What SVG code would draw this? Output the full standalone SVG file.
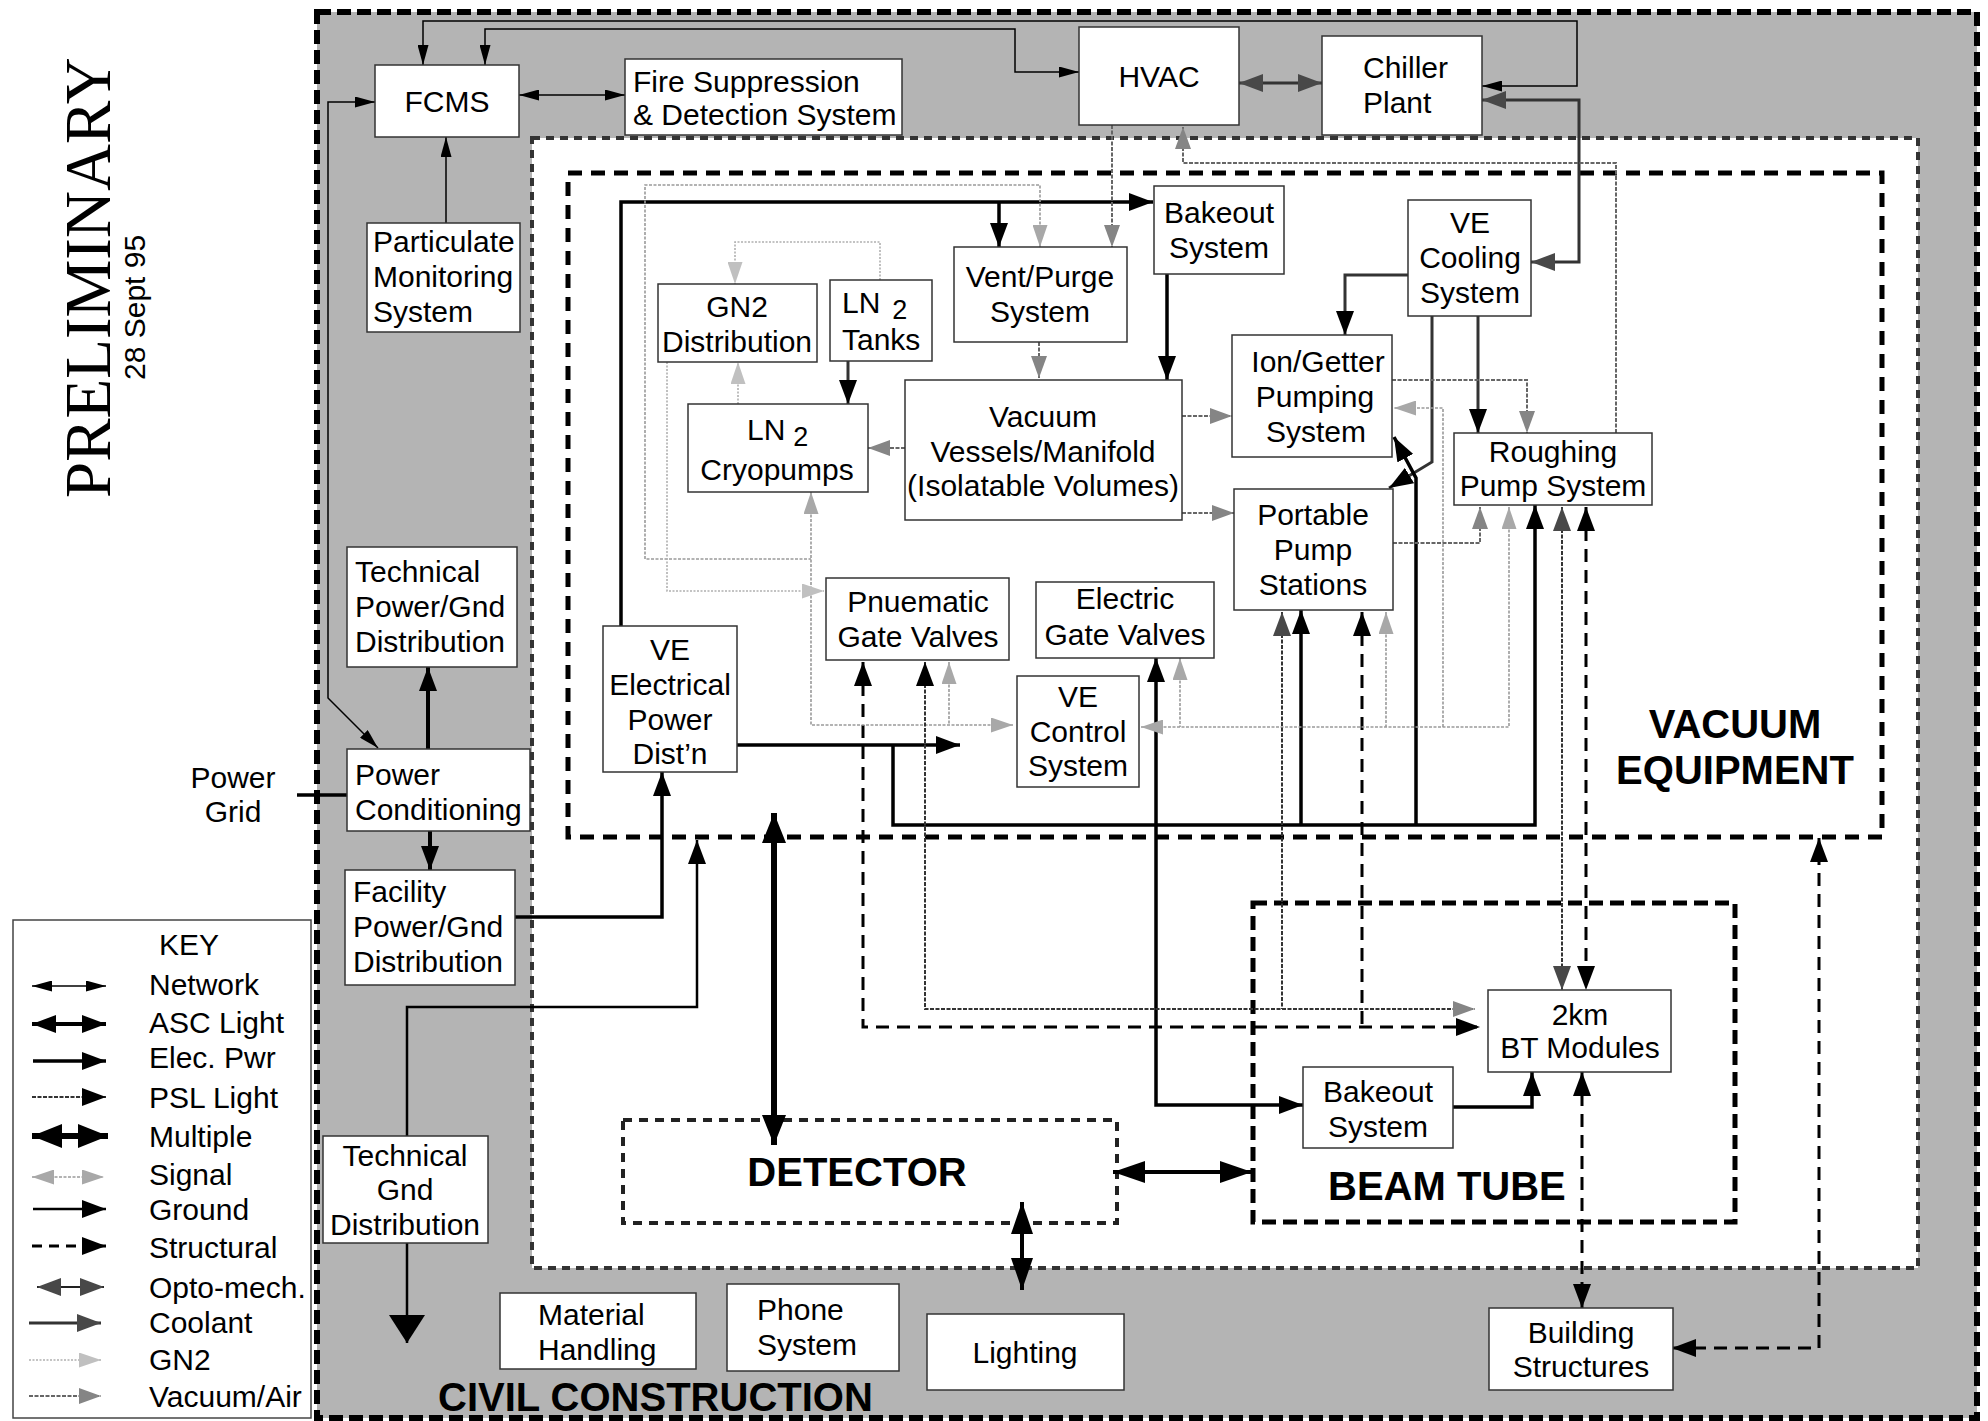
<svg xmlns="http://www.w3.org/2000/svg" width="1988" height="1421" viewBox="0 0 1988 1421">
<style>
text{font-family:"Liberation Sans",Arial,Helvetica,sans-serif;font-size:30px;fill:#000}
.c{text-anchor:middle}
.sub{font-size:27px}
.big{font-weight:bold;font-size:40px}
.box{fill:#fff;stroke:#333;stroke-width:1.5}
.net{fill:none;stroke:#000;stroke-width:1.5}
.asc{fill:none;stroke:#000;stroke-width:4}
.elec{fill:none;stroke:#000;stroke-width:3.5}
.mul{fill:none;stroke:#000;stroke-width:6}
.gnd{fill:none;stroke:#000;stroke-width:2.5}
.psl{fill:none;stroke:#333;stroke-width:2;stroke-dasharray:4 1.5}
.sig{fill:none;stroke:#9a9a9a;stroke-width:1.6;stroke-dasharray:3 1.5}
.vac{fill:none;stroke:#666;stroke-width:2;stroke-dasharray:4 1.5}
.cool{fill:none;stroke:#333;stroke-width:3}
.opto{fill:none;stroke:#222;stroke-width:2}
.gn2{fill:none;stroke:#b0b0b0;stroke-width:1.6;stroke-dasharray:2 1.5}
.str{fill:none;stroke:#000;stroke-width:3;stroke-dasharray:13 8}
</style>
<defs>
<marker id="aNet" viewBox="0 0 20 11" refX="20" refY="5.5" markerWidth="20" markerHeight="11" markerUnits="userSpaceOnUse" orient="auto-start-reverse"><path d="M0,0 L20,5.5 L0,11 z" fill="#000"/></marker>
<marker id="aBlk" viewBox="0 0 24 18" refX="24" refY="9" markerWidth="24" markerHeight="18" markerUnits="userSpaceOnUse" orient="auto-start-reverse"><path d="M0,0 L24,9 L0,18 z" fill="#000"/></marker>
<marker id="aMul" viewBox="0 0 30 24" refX="30" refY="12" markerWidth="30" markerHeight="24" markerUnits="userSpaceOnUse" orient="auto-start-reverse"><path d="M0,0 L30,12 L0,24 z" fill="#000"/></marker>
<marker id="aAsc" viewBox="0 0 32 22" refX="32" refY="11" markerWidth="32" markerHeight="22" markerUnits="userSpaceOnUse" orient="auto-start-reverse"><path d="M0,0 L32,11 L0,22 z" fill="#000"/></marker>
<marker id="aHuge" viewBox="0 0 28 36" refX="28" refY="18" markerWidth="28" markerHeight="36" markerUnits="userSpaceOnUse" orient="auto-start-reverse"><path d="M0,0 L28,18 L0,36 z" fill="#000"/></marker>
<marker id="aSig" viewBox="0 0 22 15" refX="22" refY="7.5" markerWidth="22" markerHeight="15" markerUnits="userSpaceOnUse" orient="auto-start-reverse"><path d="M0,0 L22,7.5 L0,15 z" fill="#a8a8a8"/></marker>
<marker id="aVac" viewBox="0 0 22 16" refX="22" refY="8" markerWidth="22" markerHeight="16" markerUnits="userSpaceOnUse" orient="auto-start-reverse"><path d="M0,0 L22,8 L0,16 z" fill="#858585"/></marker>
<marker id="aCool" viewBox="0 0 24 18" refX="24" refY="9" markerWidth="24" markerHeight="18" markerUnits="userSpaceOnUse" orient="auto-start-reverse"><path d="M0,0 L24,9 L0,18 z" fill="#484848"/></marker>
<marker id="aGN2" viewBox="0 0 22 15" refX="22" refY="7.5" markerWidth="22" markerHeight="15" markerUnits="userSpaceOnUse" orient="auto-start-reverse"><path d="M0,0 L22,7.5 L0,15 z" fill="#c0c0c0"/></marker>
</defs>

<g id="regions">
<rect x="317" y="12" width="1660" height="1406" fill="#b4b4b4" stroke="#000" stroke-width="6" stroke-dasharray="14 6"/>
<rect x="532" y="138" width="1386" height="1130" fill="#fff" stroke="#333" stroke-width="4" stroke-dasharray="8 6"/>
<rect id="vacuum-equipment" x="568" y="173" width="1314" height="664" fill="none" stroke="#000" stroke-width="5" stroke-dasharray="14 9"/>
<rect id="beam-tube" x="1253" y="903" width="482" height="319" fill="none" stroke="#000" stroke-width="5" stroke-dasharray="14 7"/>
<rect id="detector" x="623" y="1120" width="494" height="103" fill="none" stroke="#222" stroke-width="4" stroke-dasharray="9 7"/>
</g>

<g id="connectors">
<path class="net" d="M1482,86 L1577,86 L1577,21 L423,21 L423,65" marker-start="url(#aNet)" marker-end="url(#aNet)"/>
<path class="net" d="M1079,72 L1015,72 L1015,29 L485,29 L485,65" marker-start="url(#aNet)" marker-end="url(#aNet)"/>
<path class="net" d="M519,95 L625,95" marker-start="url(#aNet)" marker-end="url(#aNet)"/>
<path class="net" d="M375,102 L328,102 L328,698 L378,748" marker-start="url(#aNet)" marker-end="url(#aNet)"/>
<path class="net" d="M446,223 L446,137" marker-end="url(#aNet)"/>
<path class="cool" d="M1239,83 L1322,83" marker-start="url(#aCool)" marker-end="url(#aCool)"/>
<path class="cool" d="M1482,100 L1579,100 L1579,262 L1531,262" marker-start="url(#aCool)" marker-end="url(#aCool)"/>
<path class="cool" d="M1408,275 L1345,275 L1345,335" marker-end="url(#aBlk)"/>
<path class="cool" d="M1478,316 L1478,433" marker-end="url(#aBlk)"/>
<path class="cool" d="M1432,316 L1432,462 L1389,488" marker-end="url(#aBlk)"/>
<path class="cool" d="M848,361 L848,404" marker-end="url(#aBlk)"/>
<path class="elec" d="M621,626 L621,202 L1153,202" marker-end="url(#aBlk)"/>
<path class="elec" d="M999,202 L999,247" marker-end="url(#aBlk)"/>
<path class="elec" d="M1167,274 L1167,380" marker-end="url(#aBlk)"/>
<path class="elec" d="M737,745 L960,745" marker-end="url(#aBlk)"/>
<path class="elec" d="M893,745 L893,825 L1535,825 L1535,505" marker-end="url(#aBlk)"/>
<path class="elec" d="M1301,825 L1301,610" marker-end="url(#aBlk)"/>
<path class="elec" d="M1416,825 L1416,478 L1394,437" marker-end="url(#aBlk)"/>
<path class="elec" d="M1303,1105 L1156,1105 L1156,658" marker-start="url(#aBlk)" marker-end="url(#aBlk)"/>
<path class="elec" d="M515,917 L662,917 L662,772" marker-end="url(#aBlk)"/>
<path class="elec" d="M1453,1107 L1532,1107 L1532,1072" marker-end="url(#aBlk)"/>
<path class="elec" d="M297,795 L347,795"/>
<path class="asc" d="M428,749 L428,667" marker-end="url(#aBlk)"/>
<path class="asc" d="M430,831 L430,870" marker-end="url(#aBlk)"/>
<path class="gnd" d="M407,1136 L407,1007 L697,1007 L697,840" marker-end="url(#aBlk)"/>
<path class="gnd" d="M407,1243 L407,1343" marker-end="url(#aHuge)"/>
<path class="mul" d="M774,813 L774,1145" marker-start="url(#aMul)" marker-end="url(#aMul)"/>
<path class="asc" d="M1113,1172 L1252,1172" marker-start="url(#aAsc)" marker-end="url(#aAsc)"/>
<path class="asc" d="M1022,1202 L1022,1290" marker-start="url(#aAsc)" marker-end="url(#aAsc)"/>
<path class="str" d="M863,662 L863,1027 L1480,1027" marker-start="url(#aBlk)" marker-end="url(#aBlk)"/>
<path class="str" d="M1362,612 L1362,1027" marker-start="url(#aBlk)"/>
<path class="str" d="M1586,507 L1586,990" marker-start="url(#aBlk)" marker-end="url(#aBlk)"/>
<path class="str" d="M1582,1072 L1582,1308" marker-start="url(#aBlk)" marker-end="url(#aBlk)"/>
<path class="str" d="M1672,1348 L1819,1348 L1819,838" marker-start="url(#aBlk)" marker-end="url(#aBlk)"/>
<path class="sig" d="M1040,247 L1040,185 L645,185 L645,559 L811,559" marker-start="url(#aSig)"/>
<path class="sig" d="M811,492 L811,725 L1013,725" marker-start="url(#aSig)" marker-end="url(#aSig)"/>
<path class="sig" d="M949,662 L949,725" marker-start="url(#aSig)"/>
<path class="sig" d="M1141,727 L1509,727 L1509,507" marker-start="url(#aSig)" marker-end="url(#aSig)"/>
<path class="sig" d="M1180,658 L1180,727" marker-start="url(#aSig)"/>
<path class="sig" d="M1386,612 L1386,727" marker-start="url(#aSig)"/>
<path class="sig" d="M1443,727 L1443,408 L1394,408" marker-end="url(#aSig)"/>
<path class="vac" d="M1112,125 L1112,247" marker-end="url(#aVac)"/>
<path class="vac" d="M1039,342 L1039,378" marker-end="url(#aVac)"/>
<path class="vac" d="M905,448 L868,448" marker-end="url(#aVac)"/>
<path class="vac" d="M1182,416 L1232,416" marker-end="url(#aVac)"/>
<path class="vac" d="M1182,513 L1234,513" marker-end="url(#aVac)"/>
<path class="vac" d="M1392,380 L1527,380 L1527,433" marker-end="url(#aVac)"/>
<path class="vac" d="M1393,543 L1480,543 L1480,507" marker-end="url(#aVac)"/>
<path class="vac" d="M1616,433 L1616,163 L1183,163 L1183,127" marker-end="url(#aVac)"/>
<path class="psl" d="M925,662 L925,1009 L1475,1009" marker-start="url(#aBlk)" marker-end="url(#aVac)"/>
<path class="psl" d="M1282,612 L1282,1009" marker-start="url(#aCool)"/>
<path class="psl" d="M1562,507 L1562,990" marker-start="url(#aCool)" marker-end="url(#aCool)"/>
<path class="gn2" d="M880,280 L880,242 L735,242 L735,284" marker-end="url(#aGN2)"/>
<path class="gn2" d="M738,404 L738,362" marker-end="url(#aGN2)"/>
<path class="gn2" d="M667,362 L667,591 L824,591" marker-end="url(#aGN2)"/>
</g>

<g id="nodes">
<g id="fcms"><rect class="box" x="375" y="65" width="144" height="72"/><text class="c" x="447" y="112">FCMS</text></g>
<g id="fire-suppression"><rect class="box" x="625" y="59" width="277" height="76"/><text x="633" y="92">Fire Suppression</text><text x="633" y="125">&amp; Detection System</text></g>
<g id="hvac"><rect class="box" x="1079" y="27" width="160" height="98"/><text class="c" x="1159" y="87">HVAC</text></g>
<g id="chiller-plant"><rect class="box" x="1322" y="36" width="160" height="99"/><text x="1363" y="78">Chiller</text><text x="1363" y="113">Plant</text></g>
<g id="particulate"><rect class="box" x="367" y="223" width="153" height="109"/><text x="373" y="252">Particulate</text><text x="373" y="287">Monitoring</text><text x="373" y="322">System</text></g>
<g id="technical-power"><rect class="box" x="347" y="547" width="170" height="120"/><text x="355" y="582">Technical</text><text x="355" y="617">Power/Gnd</text><text x="355" y="652">Distribution</text></g>
<g id="power-conditioning"><rect class="box" x="347" y="749" width="183" height="82"/><text x="355" y="785">Power</text><text x="355" y="820">Conditioning</text></g>
<g id="facility-power"><rect class="box" x="345" y="870" width="170" height="115"/><text x="353" y="902">Facility</text><text x="353" y="937">Power/Gnd</text><text x="353" y="972">Distribution</text></g>
<g id="technical-gnd"><rect class="box" x="323" y="1136" width="165" height="107"/><text class="c" x="405" y="1166">Technical</text><text class="c" x="405" y="1200">Gnd</text><text class="c" x="405" y="1235">Distribution</text></g>
<g id="ve-electrical"><rect class="box" x="603" y="626" width="134" height="146"/><text class="c" x="670" y="660">VE</text><text class="c" x="670" y="695">Electrical</text><text class="c" x="670" y="730">Power</text><text class="c" x="670" y="764">Dist’n</text></g>
<g id="bakeout-top"><rect class="box" x="1154" y="186" width="130" height="88"/><text class="c" x="1219" y="223">Bakeout</text><text class="c" x="1219" y="258">System</text></g>
<g id="vent-purge"><rect class="box" x="954" y="247" width="173" height="95"/><text class="c" x="1040" y="287">Vent/Purge</text><text class="c" x="1040" y="322">System</text></g>
<g id="gn2-distribution"><rect class="box" x="658" y="284" width="159" height="78"/><text class="c" x="737" y="317">GN2</text><text class="c" x="737" y="352">Distribution</text></g>
<g id="ln2-tanks"><rect class="box" x="830" y="280" width="102" height="81"/><text x="842" y="313">LN<tspan class="sub" dx="12" dy="6">2</tspan></text><text x="842" y="350">Tanks</text></g>
<g id="ln2-cryopumps"><rect class="box" x="688" y="404" width="180" height="88"/><text x="747" y="440">LN<tspan class="sub" dx="8" dy="6">2</tspan></text><text class="c" x="777" y="480">Cryopumps</text></g>
<g id="vacuum-vessels"><rect class="box" x="905" y="380" width="277" height="140"/><text class="c" x="1043" y="427">Vacuum</text><text class="c" x="1043" y="462">Vessels/Manifold</text><text class="c" x="1043" y="496">(Isolatable Volumes)</text></g>
<g id="ion-getter"><rect class="box" x="1232" y="335" width="160" height="122"/><text class="c" x="1318" y="372">Ion/Getter</text><text class="c" x="1315" y="407">Pumping</text><text class="c" x="1316" y="442">System</text></g>
<g id="ve-cooling"><rect class="box" x="1408" y="200" width="123" height="116"/><text class="c" x="1470" y="233">VE</text><text class="c" x="1470" y="268">Cooling</text><text class="c" x="1470" y="303">System</text></g>
<g id="roughing-pump"><rect class="box" x="1454" y="433" width="198" height="72"/><text class="c" x="1553" y="462">Roughing</text><text class="c" x="1553" y="496">Pump System</text></g>
<g id="portable-pump"><rect class="box" x="1234" y="489" width="159" height="121"/><text class="c" x="1313" y="525">Portable</text><text class="c" x="1313" y="560">Pump</text><text class="c" x="1313" y="595">Stations</text></g>
<g id="pneumatic-gate-valves"><rect class="box" x="826" y="578" width="183" height="82"/><text class="c" x="918" y="612">Pnuematic</text><text class="c" x="918" y="647">Gate Valves</text></g>
<g id="electric-gate-valves"><rect class="box" x="1036" y="582" width="178" height="76"/><text class="c" x="1125" y="609">Electric</text><text class="c" x="1125" y="645">Gate Valves</text></g>
<g id="ve-control"><rect class="box" x="1017" y="676" width="122" height="111"/><text class="c" x="1078" y="707">VE</text><text class="c" x="1078" y="742">Control</text><text class="c" x="1078" y="776">System</text></g>
<g id="bt-modules"><rect class="box" x="1488" y="990" width="183" height="82"/><text class="c" x="1580" y="1025">2km</text><text class="c" x="1580" y="1058">BT Modules</text></g>
<g id="bakeout-bottom"><rect class="box" x="1303" y="1067" width="150" height="81"/><text class="c" x="1378" y="1102">Bakeout</text><text class="c" x="1378" y="1137">System</text></g>
<g id="building-structures"><rect class="box" x="1489" y="1308" width="184" height="82"/><text class="c" x="1581" y="1343">Building</text><text class="c" x="1581" y="1377">Structures</text></g>
<g id="material-handling"><rect class="box" x="500" y="1293" width="196" height="76"/><text x="538" y="1325">Material</text><text x="538" y="1360">Handling</text></g>
<g id="phone-system"><rect class="box" x="727" y="1284" width="172" height="87"/><text x="757" y="1320">Phone</text><text x="757" y="1355">System</text></g>
<g id="lighting"><rect class="box" x="927" y="1314" width="197" height="76"/><text class="c" x="1025" y="1363">Lighting</text></g>
<g id="power-grid"><text class="c" x="233" y="788">Power</text><text class="c" x="233" y="822">Grid</text></g>
</g>

<g id="labels">
<text class="big c" x="1735" y="738">VACUUM</text>
<text class="big c" x="1735" y="784">EQUIPMENT</text>
<text class="big c" x="857" y="1186">DETECTOR</text>
<text class="big" x="1328" y="1200">BEAM TUBE</text>
<text class="big" x="438" y="1411">CIVIL CONSTRUCTION</text>
<text x="110" y="498" transform="rotate(-90 110 498)" style="font-family:'Liberation Serif','Times New Roman',serif;font-size:65px">PRELIMINARY</text>
<text x="145" y="380" transform="rotate(-90 145 380)">28 Sept 95</text>
</g>

<g id="key">
<rect x="13" y="920" width="298" height="498" fill="#fff" stroke="#444" stroke-width="1.5"/>
<text class="c" x="189" y="955">KEY</text>
<path class="net" d="M32,986 L106,986" marker-start="url(#aNet)" marker-end="url(#aNet)"/>
<path class="asc" d="M32,1024 L106,1024" marker-start="url(#aBlk)" marker-end="url(#aBlk)"/>
<path class="elec" d="M33,1061 L106,1061" marker-end="url(#aBlk)"/>
<path class="psl" d="M32,1097 L106,1097" marker-end="url(#aBlk)"/>
<path class="mul" d="M32,1136 L108,1136" marker-start="url(#aMul)" marker-end="url(#aMul)"/>
<path class="sig" d="M32,1177 L104,1177" marker-start="url(#aSig)" marker-end="url(#aSig)"/>
<path class="gnd" d="M33,1209 L106,1209" marker-end="url(#aBlk)"/>
<path class="str" d="M32,1246 L106,1246" style="stroke-dasharray:10 7" marker-end="url(#aBlk)"/>
<path class="opto" d="M37,1287 L104,1287" marker-start="url(#aCool)" marker-end="url(#aCool)"/>
<path class="cool" d="M29,1323 L101,1323" marker-end="url(#aCool)"/>
<path class="gn2" d="M29,1360 L101,1360" marker-end="url(#aGN2)"/>
<path class="vac" d="M29,1396 L101,1396" marker-end="url(#aVac)"/>
<text x="149" y="995">Network</text>
<text x="149" y="1033">ASC Light</text>
<text x="149" y="1068">Elec. Pwr</text>
<text x="149" y="1108">PSL Light</text>
<text x="149" y="1147">Multiple</text>
<text x="149" y="1185">Signal</text>
<text x="149" y="1220">Ground</text>
<text x="149" y="1258">Structural</text>
<text x="149" y="1298">Opto-mech.</text>
<text x="149" y="1333">Coolant</text>
<text x="149" y="1370">GN2</text>
<text x="149" y="1407">Vacuum/Air</text>
</g>
</svg>
